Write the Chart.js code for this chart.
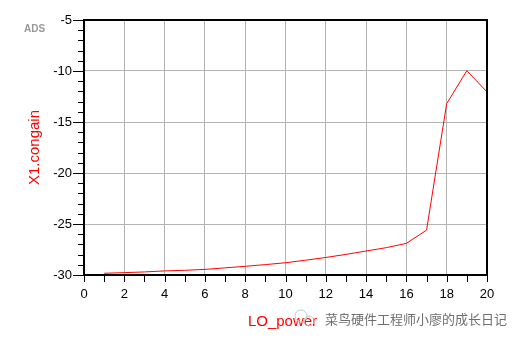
<!DOCTYPE html>
<html>
<head>
<meta charset="utf-8">
<script src="https://cdn.jsdelivr.net/npm/chart.js@4/dist/chart.umd.min.js"></script>
<style>
  body { margin: 0; background: #fff; }
  canvas { display: block; }
</style>
</head>
<body>
<canvas id="chart" width="521" height="342"></canvas>
<script>
const loPower = [1, 2, 3, 4, 5, 6, 7, 8, 9, 10, 11, 12, 13, 14, 15, 16, 17, 18, 19, 20];
const congain = [-29.83, -29.77, -29.7, -29.6, -29.54, -29.45, -29.3, -29.15, -28.98, -28.8,
  -28.55, -28.28, -27.98, -27.65, -27.32, -26.9, -25.6, -13.2, -9.97, -12.05];
const xTickLabels = [0, 2, 4, 6, 8, 10, 12, 14, 16, 18, 20];
const yTickLabels = [-30, -25, -20, -15, -10, -5];

const gridGray = '#b4b4b4';

// draws the box, the tick marks and the free texts
const decorations = {
  id: 'decorations',
  afterDraw(chart) {
    const ctx = chart.ctx;
    const area = chart.chartArea;
    const xs = chart.scales.x;
    const ys = chart.scales.y;
    ctx.save();
    ctx.strokeStyle = '#000';
    ctx.lineWidth = 1;
    // tick marks
    ctx.beginPath();
    for (let v = -30; v <= -5; v++) {
      const y = Math.round(ys.getPixelForValue(v)) + 0.5;
      const len = v % 5 === 0 ? 11 : 6;
      ctx.moveTo(area.left - len, y);
      ctx.lineTo(area.left, y);
    }
    for (let v = 0; v <= 20; v++) {
      const x = Math.round(xs.getPixelForValue(v)) + 0.5;
      ctx.moveTo(x, area.bottom);
      ctx.lineTo(x, area.bottom + 7);
    }
    ctx.stroke();
    // frame
    ctx.lineWidth = 2;
    ctx.strokeRect(area.left, area.top, area.right - area.left, area.bottom - area.top);

    // ADS tag
    ctx.fillStyle = '#999999';
    ctx.font = 'bold 10px "Liberation Sans", Arial, sans-serif';
    ctx.textAlign = 'left';
    ctx.textBaseline = 'middle';
    ctx.fillText('ADS', 24, 29);

    // axis titles
    ctx.fillStyle = '#ff0000';
    ctx.font = '15px "Liberation Sans", Arial, sans-serif';
    ctx.textAlign = 'center';
    ctx.fillText('LO_power', (area.left + area.right) / 2 - 3, 322);
    ctx.save();
    ctx.translate(35, (area.top + area.bottom) / 2);
    ctx.rotate(-Math.PI / 2);
    ctx.fillText('X1.congain', 0, 0);
    ctx.restore();

    // watermark
    ctx.strokeStyle = '#c8c8c8';
    ctx.lineWidth = 1;
    ctx.beginPath();
    ctx.arc(301, 316, 6, 0, Math.PI * 2);
    ctx.stroke();
    ctx.beginPath();
    ctx.arc(309, 321, 5, 0, Math.PI * 2);
    ctx.stroke();
    ctx.fillStyle = '#6e6e6e';
    ctx.font = '13px "Noto Sans CJK SC", sans-serif';
    ctx.textAlign = 'left';
    ctx.fillText('菜鸟硬件工程师小廖的成长日记', 325, 319);
    ctx.restore();
  }
};

new Chart(document.getElementById('chart').getContext('2d'), {
  type: 'line',
  data: {
    datasets: [{
      data: loPower.map((p, i) => ({ x: p, y: congain[i] })),
      borderColor: '#ff0000',
      borderWidth: 1,
      pointRadius: 0,
      tension: 0,
      fill: false
    }]
  },
  options: {
    responsive: false,
    animation: false,
    layout: { padding: { left: 0, top: 20, right: 34, bottom: 0 } },
    plugins: { legend: { display: false }, tooltip: { enabled: false } },
    scales: {
      x: {
        type: 'linear',
        min: 0,
        max: 20,
        afterFit(scale) { scale.height = 67; },
        border: { display: false },
        grid: {
          drawTicks: false,
          color: ctx => (ctx.tick && ctx.tick.value % 2 === 0 && ctx.tick.value > 0 && ctx.tick.value < 20) ? gridGray : 'rgba(0,0,0,0)',
          lineWidth: 1
        },
        ticks: {
          stepSize: 1,
          autoSkip: false,
          maxRotation: 0,
          padding: 12,
          color: '#000',
          font: { family: '"Liberation Sans", Arial, sans-serif', size: 13 },
          callback: v => xTickLabels.includes(v) ? String(v) : ''
        }
      },
      y: {
        min: -30,
        max: -5,
        afterFit(scale) { scale.width = 84; },
        border: { display: false },
        grid: {
          drawTicks: false,
          color: ctx => (ctx.tick && ctx.tick.value % 5 === 0 && ctx.tick.value > -30 && ctx.tick.value < -5) ? gridGray : 'rgba(0,0,0,0)',
          lineWidth: 1
        },
        ticks: {
          stepSize: 1,
          autoSkip: false,
          padding: 12,
          color: '#000',
          font: { family: '"Liberation Sans", Arial, sans-serif', size: 13 },
          callback: v => yTickLabels.includes(v) ? String(v) : ''
        }
      }
    }
  },
  plugins: [decorations]
});
</script>
</body>
</html>
